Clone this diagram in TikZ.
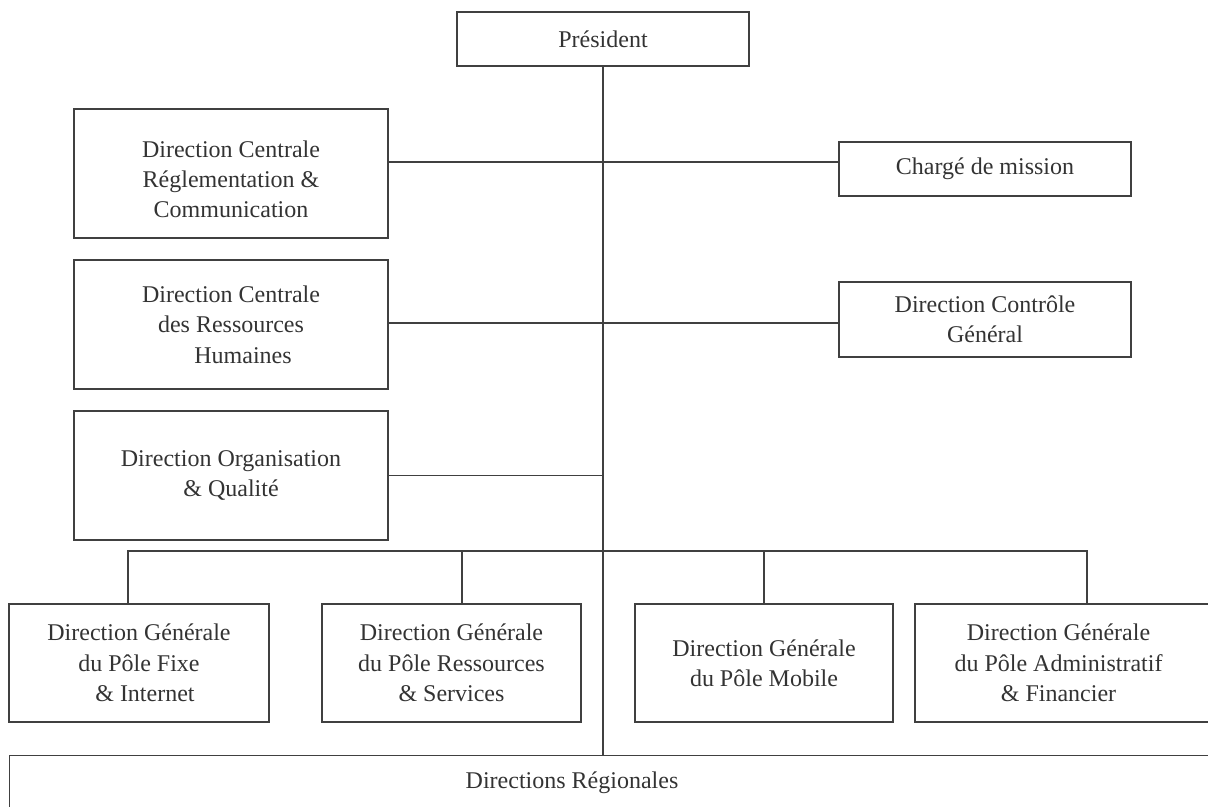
\documentclass[tikz,border=0pt]{standalone}
\usepackage{fontspec}
\setmainfont{Liberation Serif}
\begin{document}
\begin{tikzpicture}[x=0.5pt,y=-0.5pt,
  box/.style={draw=black!75,line width=0.6pt,inner sep=0pt,align=center,text=black!80,
    font=\fontsize{12}{15.2}\selectfont},
  lbl/.style={inner sep=0pt,align=center,text=black!80,font=\fontsize{12}{15.2}\selectfont},
  link/.style={draw=black!75,line width=0.6pt}]
\useasboundingbox (0,0) rectangle (1208,807);
\clip (0,0) rectangle (1208,807);
% boxes
\node[box,minimum width=146pt,minimum height=27pt] (pres) at (603,39) {Président};
\node[box,minimum width=157pt,minimum height=64.5pt] (dcrc) at (231,173.5) {\\[-1pt]Direction Centrale\\Réglementation \&\\Communication};
\node[box,minimum width=146pt,minimum height=27pt] (cm) at (985,169) {Chargé de mission};
\node[box,minimum width=157pt,minimum height=64.5pt] (dcrh) at (231,324.5) {Direction Centrale\\des Ressources\\\hspace*{12pt}Humaines};
\node[box,minimum width=146pt,minimum height=37.5pt] (dcg) at (985,319.5) {Direction Contrôle\\Général};
\node[box,minimum width=157pt,minimum height=64.5pt] (doq) at (231,475.5) {Direction Organisation\\\& Qualité};
\node[box,minimum width=130pt,minimum height=59pt] (b1) at (139,663) {Direction Générale\\du Pôle Fixe\\\hspace*{6pt}\& Internet};
\node[box,minimum width=129.5pt,minimum height=59pt] (b2) at (451.5,663) {Direction Générale\\du Pôle Ressources\\\& Services};
\node[box,minimum width=129pt,minimum height=59pt] (b3) at (764,663) {Direction Générale\\du Pôle Mobile};
\node[box,minimum width=148.5pt,minimum height=59pt] (b4) at (1063.5,663) {\hspace*{-5pt}Direction Générale\\\hspace*{-5pt}du Pôle Administratif\\\hspace*{-5pt}\& Financier};
\node[box,minimum width=603pt,minimum height=45pt,anchor=north west] (dr) at (9,755) {};
\node[lbl] (drtext) at (572,783) {Directions Régionales};
% coordinates
\coordinate (spine) at (603,0);
\coordinate (y1) at (0,162);
\coordinate (y2) at (0,323);
\coordinate (d1) at (128,551);
\coordinate (d2) at (462,551);
\coordinate (d3) at (764,551);
\coordinate (d4) at (1087,551);
% connectors
\draw[link] (pres.south -| spine) -- (dr.north -| spine);
\draw[link] (dcrc.east |- y1) -- (cm.west |- y1);
\draw[link] (dcrh.east |- y2) -- (dcg.west |- y2);
\draw[link] (doq.east) -- (doq.east -| spine);
\draw[link] (b1.north -| d1) -- (d1) -- (d4) -- (b4.north -| d4);
\draw[link] (b2.north -| d2) -- (d2);
\draw[link] (b3.north -| d3) -- (d3);
\end{tikzpicture}
\end{document}
